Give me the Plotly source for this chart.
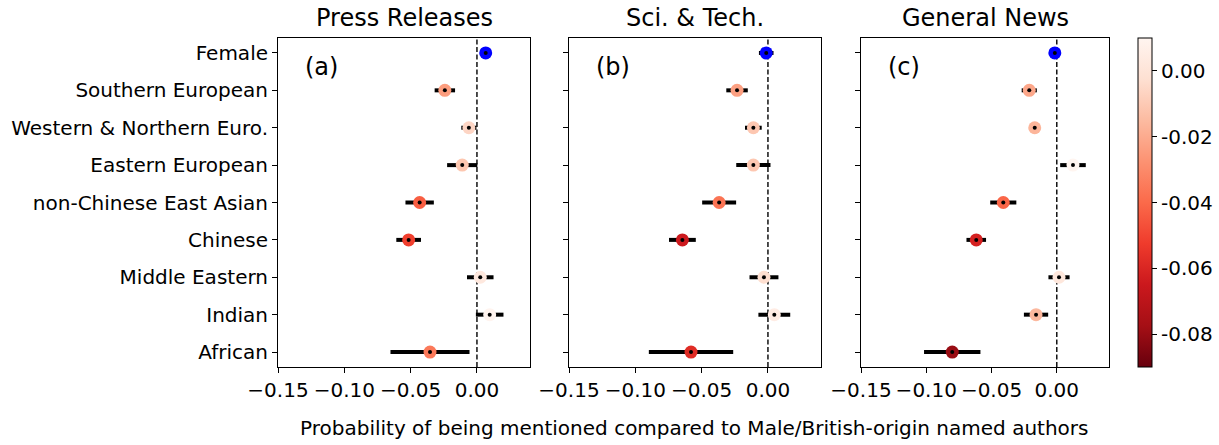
import plotly.graph_objects as go

categories = ["Female", "Southern European", "Western & Northern Euro.", "Eastern European",
              "non-Chinese East Asian", "Chinese", "Middle Eastern", "Indian", "African"]
panel_titles = ["Press Releases", "Sci. & Tech.", "General News"]
panel_tags = ["(a)", "(b)", "(c)"]

press_vals = [0.0066, -0.0242, -0.0061, -0.0111, -0.0432, -0.0515, 0.0025, 0.0096, -0.0354]
press_err = [0.004, 0.0077, 0.0057, 0.0114, 0.0107, 0.0093, 0.0100, 0.0104, 0.0298]
scitech_vals = [-0.0013, -0.0233, -0.0110, -0.0110, -0.0368, -0.0645, -0.0030, 0.0048, -0.0580]
scitech_err = [0.0055, 0.0081, 0.0063, 0.0129, 0.0128, 0.0101, 0.0109, 0.0120, 0.0318]
general_vals = [-0.0015, -0.0211, -0.0169, 0.0124, -0.0410, -0.0617, 0.0017, -0.0159, -0.0801]
general_err = [0.002, 0.0058, 0.003, 0.0098, 0.0100, 0.0075, 0.0081, 0.0093, 0.0216]

x_ticks = [-0.15, -0.10, -0.05, 0.00]
cbar_ticks = [0.00, -0.02, -0.04, -0.06, -0.08]

panels = [(press_vals, press_err), (scitech_vals, scitech_err), (general_vals, general_err)]

FONT = "DejaVu Sans"
W, H = 1219, 445


def px(X):
    return X / W


def py(Y):
    return (H - Y) / H


x_doms = [(278, 530), (569, 821), (861, 1109)]
y_top, y_bot = 38, 367
ydom = [py(y_bot), py(y_top)]

fig = go.Figure()
for i, (vals, errs) in enumerate(panels):
    ax = "" if i == 0 else str(i + 1)
    xa, ya = "x" + ax, "y" + ax
    fig.add_trace(go.Scatter(
        x=vals, y=categories, mode="markers", xaxis=xa, yaxis=ya,
        marker=dict(size=1, color="rgba(0,0,0,0)"),
        error_x=dict(type="data", array=errs, color="black", thickness=4, width=0),
        showlegend=False, hoverinfo="skip"))
    fig.add_trace(go.Scatter(
        x=vals[1:], y=categories[1:], mode="markers", xaxis=xa, yaxis=ya,
        marker=dict(size=13, color=vals[1:], coloraxis="coloraxis", line=dict(width=0)),
        showlegend=False))
    fig.add_trace(go.Scatter(
        x=vals[:1], y=categories[:1], mode="markers", xaxis=xa, yaxis=ya,
        marker=dict(size=13, color="blue", line=dict(width=0)),
        showlegend=False))
    fig.add_trace(go.Scatter(
        x=vals, y=categories, mode="markers", xaxis=xa, yaxis=ya,
        marker=dict(size=4, color="black"),
        showlegend=False))

    x0, x1 = x_doms[i]
    axis_common = dict(showline=True, linecolor="black", linewidth=1, mirror=True,
                       ticks="outside", ticklen=5, tickwidth=1, tickcolor="black",
                       showgrid=False, zeroline=False, automargin=False,
                       tickfont=dict(family=FONT, size=20, color="black"))
    fig.layout["xaxis" + ax] = dict(
        domain=[px(x0), px(x1)], anchor=ya, range=[-0.15, 0.04],
        tickvals=x_ticks, ticktext=[f"{t:.2f}".replace("-", "\u2212") for t in x_ticks],
        **axis_common)
    fig.layout["yaxis" + ax] = dict(
        domain=ydom, anchor=xa, type="category", categoryorder="array",
        categoryarray=categories, range=[8.4, -0.4],
        showticklabels=(i == 0), **axis_common)
    fig.add_shape(type="line", xref=xa, yref=ya + " domain", x0=0, x1=0, y0=0, y1=1,
                  line=dict(color="black", width=1.4, dash="5px,2.5px"), layer="below")
    fig.add_annotation(text=panel_titles[i], xref=xa + " domain", yref="paper",
                       x=0.5, y=py(18.5), xanchor="center", yanchor="middle",
                       showarrow=False, font=dict(family=FONT, size=24, color="black"))
    fig.add_annotation(text=panel_tags[i], xref=xa + " domain", yref=ya + " domain",
                       x=0.1, y=0.912, xanchor="left", yanchor="middle",
                       showarrow=False, font=dict(family=FONT, size=24, color="black"))

fig.add_annotation(text="Probability of being mentioned compared to Male/British-origin named authors",
                   xref="paper", yref="paper", x=px(693.5), y=py(428),
                   xanchor="center", yanchor="middle", showarrow=False,
                   font=dict(family=FONT, size=20, color="black"))

fig.update_layout(
    width=W, height=H, margin=dict(l=0, r=0, t=0, b=0, autoexpand=False),
    paper_bgcolor="white", plot_bgcolor="white",
    font=dict(family=FONT, size=20, color="black"),
    coloraxis=dict(
        colorscale="Reds", reversescale=True, cmin=-0.09, cmax=0.01,
        colorbar=dict(
            x=px(1138), xanchor="left", y=ydom[0], yanchor="bottom",
            len=(y_bot - y_top) / H, lenmode="fraction", thickness=14, thicknessmode="pixels",
            xpad=0, ypad=0, outlinewidth=1, outlinecolor="black",
            ticks="outside", ticklen=5, tickcolor="black",
            tickvals=cbar_ticks, ticktext=[f"{t:.2f}" for t in cbar_ticks],
            tickfont=dict(family=FONT, size=20, color="black"))),
)

fig.write_html("out.html", config={"displayModeBar": False},
               post_script="document.body.style.margin='0';")
